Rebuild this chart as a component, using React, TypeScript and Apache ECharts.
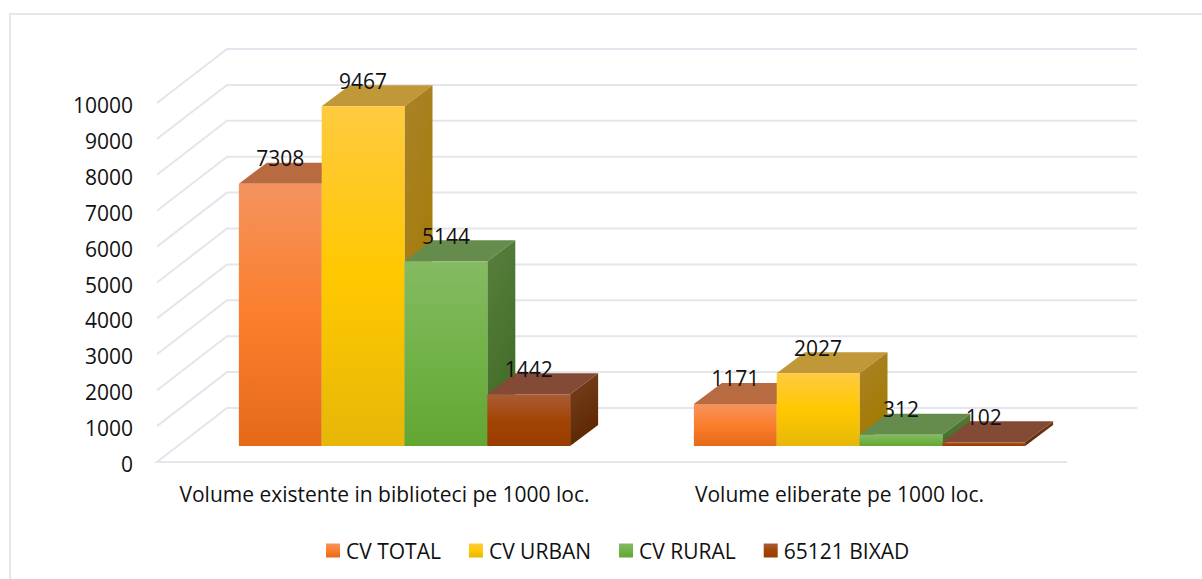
import React, { useEffect, useRef } from "react";
import * as echarts from "echarts";

const categories = ["Volume existente in biblioteci pe 1000 loc.", "Volume eliberate pe 1000 loc."];
const seriesNames = ["CV TOTAL", "CV URBAN", "CV RURAL", "65121 BIXAD"];
const cvTotal = [7308, 1171];
const cvUrban = [9467, 2027];
const cvRural = [5144, 312];
const bixad = [1442, 102];
const yTicks = [0, 1000, 2000, 3000, 4000, 5000, 6000, 7000, 8000, 9000, 10000];

const FONT = "Open Sans";
const TEXT_SIZE = 21;
const WALL_DX = 70;
const WALL_DY = 54;
const BAR_SHIFT_X = 20;
const BAR_SHIFT_Y = 16;
const BAR_DX = 28;
const BAR_DY = 21;
const BAR_FRACTION = 0.182;
const GRID_COLOR = "#E3E6EC";

const grad = (stops: string[], x2 = 0) => ({
  type: "linear",
  x: 0,
  y: 0,
  x2,
  y2: 1,
  colorStops: stops.map((color, i) => ({ offset: i / (stops.length - 1), color })),
});

const looks = [
  { front: ["#F4935F", "#FB7E2C", "#E46A19"], top: "#B86A40", side: ["#A8622F", "#9E5015"] },
  { front: ["#FFCA40", "#FFC800", "#E6B708"], top: "#C09838", side: ["#AA8228", "#A17A00"] },
  { front: ["#85BB63", "#72B248", "#62A632"], top: "#658B4D", side: ["#5A7F3E", "#3F6C25"] },
  { front: ["#AA5C38", "#A24503", "#9A3C00"], top: "#834A36", side: ["#7A4220", "#5C2700"] },
];

const barSeries = (k: number, name: string, values: number[]) => ({
  type: "custom",
  name,
  silent: true,
  coordinateSystem: "cartesian2d",
  itemStyle: { color: grad(looks[k].front) },
  data: values.map((v, i) => [i, v]),
  renderItem: (_p: any, api: any) => {
    const i = api.value(0);
    const v = api.value(1);
    const base = api.coord([i, 0]);
    const topPt = api.coord([i, v]);
    const band = api.size([1, 0])[0];
    const w = band * BAR_FRACTION;
    const x0 = base[0] + BAR_SHIFT_X - 2 * w + k * w;
    const x1 = x0 + w;
    const y0 = topPt[1] - BAR_SHIFT_Y;
    const y1 = base[1] - BAR_SHIFT_Y;
    const look = looks[k];
    return {
      type: "group",
      children: [
        {
          type: "polygon",
          shape: { points: [[x0, y0], [x1, y0], [x1 + BAR_DX, y0 - BAR_DY], [x0 + BAR_DX, y0 - BAR_DY]] },
          style: { fill: look.top },
        },
        {
          type: "polygon",
          shape: { points: [[x1, y0], [x1 + BAR_DX, y0 - BAR_DY], [x1 + BAR_DX, y1 - BAR_DY], [x1, y1]] },
          style: { fill: grad(look.side, 0.3) },
        },
        {
          type: "rect",
          shape: { x: x0, y: y0, width: w, height: y1 - y0 },
          style: { fill: grad(look.front) },
        },
        {
          type: "text",
          z2: 100,
          style: {
            text: String(v),
            x: x0 + w / 2,
            y: y0 - 25.5,
            align: "center",
            verticalAlign: "middle",
            fontFamily: FONT,
            fontSize: TEXT_SIZE,
            fill: "#111111",
          },
        },
      ],
    };
  },
});

const wallSeries = {
  type: "custom",
  name: "walls",
  silent: true,
  coordinateSystem: "cartesian2d",
  data: yTicks.map((t) => [0, t]),
  renderItem: (p: any, api: any) => {
    const t = api.value(1);
    const y = api.coord([0, t])[1];
    const { x, width } = p.coordSys;
    const points = [
      [x, y],
      [x + WALL_DX, y - WALL_DY],
      [x + WALL_DX + width, y - WALL_DY],
    ];
    if (t === 0) points.unshift([x + width, y]);
    return {
      type: "polyline",
      shape: { points },
      style: { stroke: GRID_COLOR, lineWidth: 2, fill: "none" },
    };
  },
};

export default function App() {
  const ref = useRef<HTMLDivElement>(null);
  useEffect(() => {
    const chart = echarts.init(ref.current!, undefined, { renderer: "svg" });
    chart.setOption({
      animation: false,
      backgroundColor: "#FFFFFF",
      grid: { left: 157, top: 103, width: 910, height: 359, containLabel: false },
      xAxis: {
        type: "category",
        data: categories,
        axisLine: { show: false },
        axisTick: { show: false },
        axisLabel: { fontFamily: FONT, fontSize: TEXT_SIZE, color: "#111111", margin: 21, interval: 0 },
      },
      yAxis: {
        type: "value",
        min: 0,
        max: 10000,
        interval: 1000,
        splitLine: { show: false },
        axisLine: { show: false },
        axisTick: { show: false },
        axisLabel: {
          fontFamily: FONT,
          fontSize: TEXT_SIZE,
          color: "#111111",
          margin: 24,
          formatter: (v: number) => `{a|${v}}`,
          rich: { a: { fontFamily: FONT, fontSize: TEXT_SIZE, color: "#111111", padding: [4, 0, 0, 0] } },
        },
      },
      legend: {
        left: 321,
        top: 535,
        icon: "rect",
        itemWidth: 14,
        itemHeight: 14,
        itemGap: 28,
        selectedMode: false,
        textStyle: { fontFamily: FONT, fontSize: TEXT_SIZE, color: "#111111", padding: [0, 0, 0, 1] },
        data: seriesNames.map((name, k) => ({ name, itemStyle: { color: grad(looks[k].front) } })),
      },
      graphic: [
        {
          type: "polyline",
          silent: true,
          shape: { points: [[10, 579], [10, 14], [1202, 14]] },
          style: { stroke: GRID_COLOR, lineWidth: 2, fill: "none" },
        },
      ],
      series: [
        wallSeries,
        barSeries(0, seriesNames[0], cvTotal),
        barSeries(1, seriesNames[1], cvUrban),
        barSeries(2, seriesNames[2], cvRural),
        barSeries(3, seriesNames[3], bixad),
      ],
    });
    return () => chart.dispose();
  }, []);
  return <div ref={ref} style={{ position: "fixed", left: 0, top: 0, width: 1202, height: 579, background: "#fff" }} />;
}
